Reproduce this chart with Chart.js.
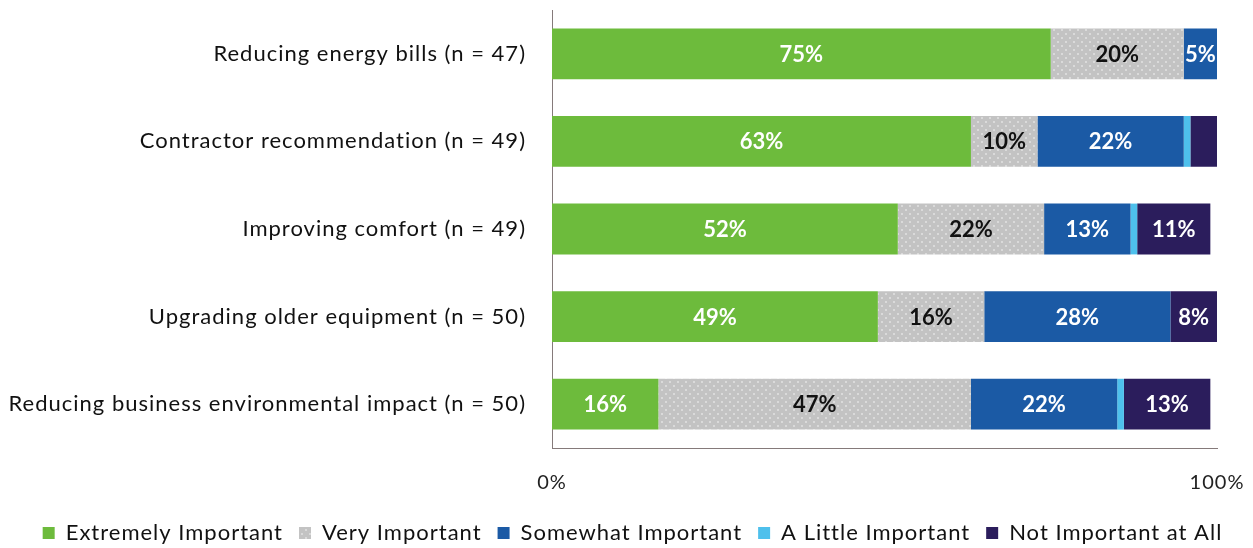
<!DOCTYPE html>
<html>
<head>
<meta charset="utf-8">
<title>Importance of factors</title>
<script src="https://cdn.jsdelivr.net/npm/chart.js@4"></script>
<style>
  html, body { margin: 0; padding: 0; background: #fff; font-family: Lato, sans-serif; }
  #wrap { width: 1253px; height: 548px; position: relative; }
</style>
</head>
<body>
<div id="wrap"><canvas id="myChart" width="1253" height="548"></canvas></div>
<script>
// categories and answers, shares in percent
const categories = [
  'Reducing energy bills (n = 47)',
  'Contractor recommendation (n = 49)',
  'Improving comfort (n = 49)',
  'Upgrading older equipment (n = 50)',
  'Reducing business environmental impact (n = 50)'
];
const extremelyImportant = [75, 63, 52, 49, 16];
const veryImportant      = [20, 10, 22, 16, 47];
const somewhatImportant  = [5, 22, 13, 28, 22];
const aLittleImportant   = [0, 1, 1, 0, 1];
const notImportantAtAll  = [0, 4, 11, 8, 13];
const xTicks = [0, 100];

const FONT = 'Lato, Carlito, Calibri, sans-serif';

// grey fill with the small light dots
function dotPattern() {
  const c = document.createElement('canvas');
  c.width = 8; c.height = 8;
  const g = c.getContext('2d');
  g.fillStyle = '#c3c3c3';
  g.fillRect(0, 0, 8, 8);
  g.fillStyle = '#dadada';
  g.fillRect(1, 1, 2, 2);
  g.fillRect(5, 5, 2, 2);
  return g.createPattern(c, 'repeat');
}

// slightly spaced lettering for axis and legend text,
// a legend box a bit shorter than its label padding would make it,
// and the legend row nudged right under the bars
const spacing = {
  id: 'spacing',
  beforeInit(chart) {
    const legend = chart.legend;
    if (legend) {
      const fit = legend.fit;
      legend.fit = function () {
        fit.call(this);
        this.height -= 6;
      };
    }
  },
  beforeLayout(chart) { chart.ctx.letterSpacing = '1px'; },
  afterLayout(chart) {
    if (chart.legend) {
      chart.legend.left += 24;
      chart.legend.right += 24;
    }
  },
  beforeDraw(chart) { chart.ctx.letterSpacing = '1px'; }
};

// writes the percentage in the middle of each segment
const segmentLabels = {
  id: 'segmentLabels',
  afterDatasetsDraw(chart) {
    const ctx = chart.ctx;
    ctx.save();
    ctx.letterSpacing = '0px';
    ctx.font = 'bold 22px ' + FONT;
    ctx.textAlign = 'center';
    ctx.textBaseline = 'middle';
    chart.data.datasets.forEach((ds, i) => {
      const meta = chart.getDatasetMeta(i);
      meta.data.forEach((bar, j) => {
        const v = ds.data[j];
        if (v < 5) return;
        const left = Math.min(bar.x, bar.base);
        const right = Math.min(Math.max(bar.x, bar.base), chart.chartArea.right);
        ctx.fillStyle = ds.labelColor;
        ctx.fillText(v + '%', (left + right) / 2, bar.y + 1);
      });
    });
    ctx.restore();
  }
};

function drawChart() {
  const grey = dotPattern();
  const ctx = document.getElementById('myChart').getContext('2d');
  return new Chart(ctx, {
    type: 'bar',
    data: {
      labels: categories,
      datasets: [
        { label: 'Extremely Important', data: extremelyImportant, backgroundColor: '#6dbb3c', labelColor: '#ffffff' },
        { label: 'Very Important', data: veryImportant, backgroundColor: grey, labelColor: '#111111' },
        { label: 'Somewhat Important', data: somewhatImportant, backgroundColor: '#1b5aa5', labelColor: '#ffffff' },
        { label: 'A Little Important', data: aLittleImportant, backgroundColor: '#4ec0ec', labelColor: '#ffffff' },
        { label: 'Not Important at All', data: notImportantAtAll, backgroundColor: '#2b1d5c', labelColor: '#ffffff' }
      ]
    },
    options: {
      indexAxis: 'y',
      responsive: false,
      animation: false,
      datasets: {
        bar: { categoryPercentage: 1, barPercentage: 0.58, borderWidth: 0 }
      },
      layout: { padding: { top: 10, right: 36, left: 0, bottom: 0 } },
      scales: {
        x: {
          stacked: true,
          min: 0,
          max: 100,
          afterBuildTicks: (axis) => { axis.ticks = xTicks.map(v => ({ value: v })); },
          grid: { display: false },
          border: { display: true, color: '#857a7a', width: 1 },
          ticks: {
            padding: 15,
            color: '#222222',
            font: { family: FONT, size: 20 },
            callback: (v) => v + '%'
          },
          afterFit: (axis) => {
            axis.height = 58;
            axis.paddingLeft = 0;
            axis.paddingRight = 0;
          }
        },
        y: {
          stacked: true,
          grid: { display: false },
          border: { display: true, color: '#857a7a', width: 1 },
          ticks: {
            padding: 18,
            color: '#111111',
            font: { family: FONT, size: 22 }
          },
          afterFit: (axis) => {
            axis.width = 552;
            axis.paddingTop = 0;
            axis.paddingBottom = 0;
          }
        }
      },
      plugins: {
        legend: {
          position: 'bottom',
          labels: {
            boxWidth: 12,
            boxHeight: 12,
            padding: 16,
            color: '#111111',
            font: { family: FONT, size: 22 }
          }
        },
        tooltip: { enabled: false }
      }
    },
    plugins: [spacing, segmentLabels]
  });
}

let myChart;
Promise.all([
  document.fonts.load('22px Lato'),
  document.fonts.load('bold 22px Lato')
]).catch(() => {}).then(() => { myChart = drawChart(); });
</script>
</body>
</html>
